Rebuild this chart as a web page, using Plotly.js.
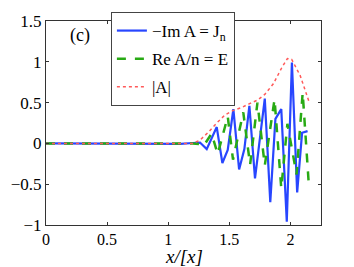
<!DOCTYPE html>
<html>
<head>
<meta charset="utf-8">
<script src="https://cdn.plot.ly/plotly-3.0.1.min.js"></script>
<style>html,body{margin:0;padding:0;background:#fff;}#chart{width:354px;height:267px;}</style>
</head>
<body>
<div id="chart"></div>
<script>
// -Im A = J_n
const imX = [0, 1.0, 1.1, 1.2, 1.26, 1.315, 1.397, 1.443, 1.487, 1.533, 1.58, 1.623, 1.664, 1.71, 1.75, 1.79, 1.835, 1.877, 1.925, 1.97, 2.012, 2.055, 2.095, 2.14];
const imY = [0, 0, -0.005, 0.005, 0.01, -0.07, 0.2, -0.24, -0.08, 0.42, -0.32, -0.07, 0.46, -0.43, 0.05, 0.55, -0.72, 0.3, 0.42, -0.96, 0.99, -0.6, 0.13, 0.15];
// Re A/n = E
const reX = [0, 1.2, 1.26, 1.29, 1.355, 1.405, 1.487, 1.53, 1.614, 1.67, 1.73, 1.79, 1.87, 1.925, 1.975, 2.05, 2.1, 2.15];
const reY = [0, 0, -0.01, -0.03, 0.12, -0.13, 0.33, -0.2, 0.38, -0.26, 0.5, -0.27, 0.54, -0.55, 0.24, -0.38, 0.62, -0.5];
// |A|
const absX = [0, 1.2, 1.26, 1.33, 1.397, 1.465, 1.533, 1.6, 1.67, 1.73, 1.79, 1.86, 1.93, 1.975, 2.01, 2.08, 2.15];
const absY = [0, 0, 0.04, 0.14, 0.25, 0.35, 0.405, 0.44, 0.49, 0.53, 0.6, 0.73, 0.93, 1.04, 1.03, 0.83, 0.52];

const names = ['\u2212Im A = J<sub>n</sub>', 'Re A/n = E', '|A|'];
const xTicks = [0, 0.5, 1, 1.5, 2];
const xTickText = ['0', '0.5', '1', '1.5', '2'];
const yTicks = [-1, -0.5, 0, 0.5, 1, 1.5];
const yTickText = ['\u22121', '\u22120.5', '0', '0.5', '1', '1.5'];
const xTitle = '<i>x/[x]</i>';
const panelLabel = '(c)';

const font = '"Times New Roman", "Liberation Serif", "DejaVu Serif", serif';
const traces = [
  {x: imX, y: imY, name: names[0], mode: 'lines', legendgroup: 'a', line: {color: 'rgb(40,70,255)', width: 2.2}},
  {x: reX, y: reY, name: names[1], mode: 'lines', legendgroup: 'b', line: {color: 'rgb(40,170,20)', width: 2.5, dash: 'dash'}},
  {x: absX, y: absY, name: names[2], mode: 'lines', legendgroup: 'c', line: {color: 'rgb(255,90,90)', width: 1.5, dash: 'dot'}}
];
const axBase = {showgrid: false, zeroline: false, showline: true, linecolor: '#333', linewidth: 1,
  mirror: 'ticks', ticks: 'inside', ticklen: 3, tickcolor: '#333', tickfont: {family: font, size: 17, color: '#000'}};
const layout = {
  width: 354, height: 267,
  margin: {l: 46, r: 33, t: 19, b: 42},
  paper_bgcolor: '#fff', plot_bgcolor: '#fff',
  font: {family: font, color: '#000'},
  xaxis: Object.assign({}, axBase, {range: [0, 2.25], tickvals: xTicks, ticktext: xTickText,
    tickfont: {family: font, size: 16, color: '#000'}}),
  yaxis: Object.assign({}, axBase, {range: [-1, 1.5], tickvals: yTicks, ticktext: yTickText}),
  showlegend: true,
  legend: {x: 0.236, xanchor: 'left', y: 1.044, yanchor: 'top', bgcolor: '#fff', bordercolor: '#444', borderwidth: 1,
    font: {family: font, size: 17}, traceorder: 'grouped', tracegroupgap: 3, itemwidth: 30},
  annotations: [
    {text: panelLabel, xref: 'paper', yref: 'paper', x: 0.125, y: 0.93, xanchor: 'center', yanchor: 'middle',
      showarrow: false, font: {family: font, size: 18}},
    {text: xTitle, xref: 'paper', yref: 'paper', x: 0.5, y: -0.155, xanchor: 'center', yanchor: 'middle',
      showarrow: false, font: {family: font, size: 19}}
  ]
};
Plotly.newPlot('chart', traces, layout, {displayModeBar: false, staticPlot: true});
</script>
</body>
</html>
